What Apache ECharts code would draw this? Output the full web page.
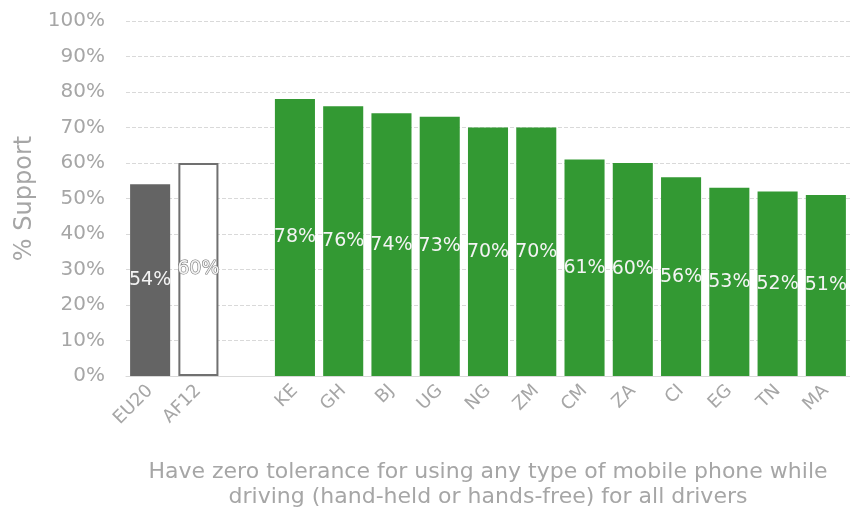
<!DOCTYPE html>
<html>
<head>
<meta charset="utf-8">
<script src="https://cdn.jsdelivr.net/npm/echarts@6/dist/echarts.min.js"></script>
<style>
  html, body { margin: 0; padding: 0; background: #fff; }
  #chart { width: 850px; height: 515px; }
</style>
</head>
<body>
<div id="chart"></div>
<script>
var categories = ['EU20', 'AF12', '', 'KE', 'GH', 'BJ', 'UG', 'NG', 'ZM', 'CM', 'ZA', 'CI', 'EG', 'TN', 'MA'];
var support = [54, 60, null, 78, 76, 74, 73, 70, 70, 61, 60, 56, 53, 52, 51];
var yTicks = [0, 10, 20, 30, 40, 50, 60, 70, 80, 90, 100];

var font = 'DejaVu Sans';
var grey = '#a6a6a6';

function barStyle(i) {
    if (i === 0) return { color: '#646464' };
    if (i === 1) return { color: '#ffffff', borderColor: '#707070', borderWidth: 2 };
    return { color: '#339933' };
}

var myChart = echarts.init(document.getElementById('chart'));

var option = {
    animation: false,
    textStyle: { fontFamily: font },
    grid: {
        left: 126,
        top: 21,
        width: 727,
        bottom: 139
    },
    xAxis: {
        type: 'category',
        data: categories,
        axisLine: { lineStyle: { color: '#d9d9d9', width: 1 } },
        axisTick: { show: false },
        axisLabel: {
            rotate: 45,
            color: grey,
            fontSize: 18,
            fontFamily: font,
            margin: 12
        },
        name: 'Have zero tolerance for using any type of mobile phone while\ndriving (hand-held or hands-free) for all drivers',
        nameLocation: 'middle',
        nameGap: 84,
        nameTextStyle: {
            color: grey,
            fontSize: 22,
            fontFamily: font,
            lineHeight: 25
        }
    },
    yAxis: {
        type: 'value',
        min: yTicks[0],
        max: yTicks[yTicks.length - 1],
        interval: 10,
        axisLine: { show: false },
        axisTick: { show: false },
        axisLabel: {
            color: grey,
            fontSize: 20,
            fontFamily: font,
            margin: 21,
            formatter: '{value}%'
        },
        splitLine: {
            lineStyle: { color: '#d9d9d9', type: 'dashed', width: 1 }
        },
        name: '% Support',
        nameLocation: 'middle',
        nameGap: 88,
        nameRotate: 90,
        nameTextStyle: {
            color: grey,
            fontSize: 24,
            fontFamily: font
        }
    },
    series: [{
        type: 'bar',
        barCategoryGap: '17%',
        data: support.map(function (v, i) {
            return {
                value: v,
                itemStyle: barStyle(i),
                label: i === 1 ? { textBorderColor: '#777', textBorderWidth: 1.2 } : {}
            };
        }),
        label: {
            show: true,
            position: 'inside',
            color: '#f4f4f4',
            fontSize: 19,
            fontFamily: font,
            formatter: '{c}%'
        }
    }]
};

myChart.setOption(option);
</script>
</body>
</html>
